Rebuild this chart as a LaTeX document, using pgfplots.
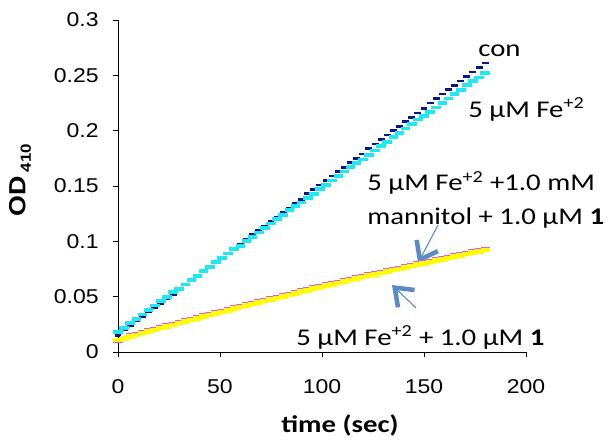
\documentclass[border=0pt]{standalone}
\usepackage{fontspec}
\setmainfont[FakeStretch=1.15]{Liberation Sans}
\newfontfamily\calib[FakeStretch=1.2]{Carlito}
\usepackage{pgfplots}
\pgfplotsset{compat=1.18}
\usetikzlibrary{arrows.meta}
\definecolor{conc}{RGB}{10,20,140}
\definecolor{cyanc}{RGB}{30,232,240}
\definecolor{yelc}{RGB}{255,255,0}
\definecolor{magc}{RGB}{240,80,240}
\definecolor{arrc}{RGB}{91,139,199}
\begin{document}
\begin{tikzpicture}
\begin{axis}[
  scale only axis, width=306pt, height=249pt,
  xmin=0, xmax=200, ymin=0, ymax=0.3,
  axis x line*=bottom, axis y line*=left,
  axis line style={-, black, line width=0.6pt},
  xtick={0,50,100,150,200},
  ytick={0,0.05,0.1,0.15,0.2,0.25,0.3},
  yticklabels={0,0.05,0.1,0.15,0.2,0.25,0.3},
  tick align=outside, major tick length=4pt,
  tick style={black, line width=0.6pt},
  ticklabel style={font=\fontsize{15}{18}\selectfont},
  /pgf/number format/assume math mode=true,
  xticklabel style={yshift=-13pt},
  yticklabel style={xshift=-7pt},
  clip=false,
  xlabel={\calib\bfseries time (sec)},
  ylabel={\bfseries OD\,{\fontsize{11}{12}\selectfont\raisebox{-4pt}{410}}},
  xlabel style={at={(axis description cs:0.544,-0.22)}, anchor=center, font=\fontsize{18}{21}\selectfont},
  ylabel style={at={(axis description cs:-0.24,0.518)}, anchor=center, font=\fontsize{17.5}{20}\selectfont},
]
\addplot[only marks, mark=-, color=conc, mark size=2.6pt, mark options={line width=2pt}] coordinates {
(0,0.015)(3,0.020)(6,0.024)(9,0.028)(12,0.032)(15,0.036)(18,0.040)(21,0.044)(24,0.048)(27,0.052)(30,0.056)(33,0.061)(36,0.065)(39,0.069)(42,0.073)(45,0.077)(48,0.081)(51,0.085)(54,0.089)(57,0.093)(60,0.097)(63,0.102)(66,0.106)(69,0.110)(72,0.114)(75,0.118)(78,0.122)(81,0.126)(84,0.130)(87,0.134)(90,0.138)(93,0.143)(96,0.147)(99,0.151)(102,0.155)(105,0.159)(108,0.163)(111,0.167)(114,0.171)(117,0.175)(120,0.179)(123,0.184)(126,0.188)(129,0.192)(132,0.196)(135,0.200)(138,0.204)(141,0.208)(144,0.212)(147,0.216)(150,0.220)(153,0.225)(156,0.229)(159,0.233)(162,0.237)(165,0.241)(168,0.245)(171,0.249)(174,0.253)(177,0.257)(180,0.261)
};
\addplot[only marks, mark=-, color=cyanc, mark size=3.6pt, mark options={line width=2.8pt}] coordinates {
(0,0.018)(3,0.022)(6,0.026)(9,0.030)(12,0.034)(15,0.038)(18,0.042)(21,0.046)(24,0.050)(27,0.054)(30,0.057)(33,0.061)(36,0.065)(39,0.069)(42,0.073)(45,0.077)(48,0.081)(51,0.085)(54,0.089)(57,0.093)(60,0.096)(63,0.100)(66,0.104)(69,0.108)(72,0.112)(75,0.116)(78,0.120)(81,0.124)(84,0.128)(87,0.132)(90,0.135)(93,0.139)(96,0.143)(99,0.147)(102,0.151)(105,0.155)(108,0.159)(111,0.163)(114,0.167)(117,0.171)(120,0.174)(123,0.178)(126,0.182)(129,0.186)(132,0.190)(135,0.194)(138,0.198)(141,0.202)(144,0.206)(147,0.210)(150,0.213)(153,0.217)(156,0.221)(159,0.225)(162,0.229)(165,0.233)(168,0.237)(171,0.241)(174,0.245)(177,0.248)(180,0.252)
};
\addplot[only marks, mark=-, color=magc, mark size=3.4pt, mark options={line width=2.4pt}] coordinates {
(0,0.0093)(3,0.0125)(6,0.0154)(9,0.0169)(12,0.0185)(15,0.0200)(18,0.0215)(21,0.0230)(24,0.0246)(27,0.0261)(30,0.0276)(33,0.0291)(36,0.0305)(39,0.0320)(42,0.0334)(45,0.0349)(48,0.0363)(51,0.0378)(54,0.0392)(57,0.0407)(60,0.0421)(63,0.0435)(66,0.0449)(69,0.0463)(72,0.0477)(75,0.0491)(78,0.0505)(81,0.0518)(84,0.0532)(87,0.0546)(90,0.0560)(93,0.0573)(96,0.0587)(99,0.0600)(102,0.0614)(105,0.0627)(108,0.0640)(111,0.0653)(114,0.0666)(117,0.0679)(120,0.0692)(123,0.0705)(126,0.0717)(129,0.0730)(132,0.0742)(135,0.0755)(138,0.0767)(141,0.0780)(144,0.0792)(147,0.0805)(150,0.0817)(153,0.0829)(156,0.0841)(159,0.0853)(162,0.0865)(165,0.0877)(168,0.0889)(171,0.0900)(174,0.0912)(177,0.0923)(180,0.0935)
};
\addplot[only marks, mark=-, color=yelc, mark size=3.4pt, mark options={line width=3.4pt}] coordinates {
(0,0.0108)(3,0.0123)(6,0.0139)(9,0.0154)(12,0.0170)(15,0.0185)(18,0.0200)(21,0.0215)(24,0.0231)(27,0.0246)(30,0.0261)(33,0.0276)(36,0.0290)(39,0.0305)(42,0.0319)(45,0.0334)(48,0.0348)(51,0.0363)(54,0.0377)(57,0.0392)(60,0.0406)(63,0.0420)(66,0.0434)(69,0.0448)(72,0.0462)(75,0.0476)(78,0.0490)(81,0.0503)(84,0.0517)(87,0.0531)(90,0.0545)(93,0.0558)(96,0.0572)(99,0.0585)(102,0.0599)(105,0.0612)(108,0.0625)(111,0.0638)(114,0.0651)(117,0.0664)(120,0.0677)(123,0.0690)(126,0.0702)(129,0.0715)(132,0.0727)(135,0.0740)(138,0.0752)(141,0.0765)(144,0.0777)(147,0.0790)(150,0.0802)(153,0.0814)(156,0.0826)(159,0.0838)(162,0.0850)(165,0.0862)(168,0.0874)(171,0.0885)(174,0.0897)(177,0.0908)(180,0.0920)
};
\node[anchor=base west, font=\calib\fontsize{18}{21}\selectfont, inner sep=0pt] at (axis cs:176.5,0.2666) {con};
\node[anchor=base west, font=\calib\fontsize{18}{21}\selectfont, inner sep=0pt] at (axis cs:171.6,0.2123) {5 µM Fe\textsuperscript{+2}};
\node[anchor=base west, font=\calib\fontsize{18}{21}\selectfont, inner sep=0pt] at (axis cs:122.1,0.1458) {5 µM Fe\textsuperscript{+2} +1.0 mM};
\node[anchor=base west, font=\calib\fontsize{18}{21}\selectfont, inner sep=0pt] at (axis cs:122.1,0.1148) {mannitol + 1.0 µM \textbf{1}};
\node[anchor=base west, font=\calib\fontsize{18}{21}\selectfont, inner sep=0pt] at (axis cs:87.3,0.0063) {5 µM Fe\textsuperscript{+2} + 1.0 µM \textbf{1}};
\draw[arrc, line width=0.8pt, -{Straight Barb[length=12pt,width=18pt,line width=3.4pt]}] (axis cs:156.9,0.1148) -- (axis cs:147.1,0.0804);
\draw[arrc, line width=0.8pt, -{Straight Barb[length=12pt,width=18pt,line width=3.4pt]}] (axis cs:146.1,0.0398) -- (axis cs:134.3,0.0605);
\end{axis}
\path[use as bounding box] ([xshift=-88.5pt, yshift=-65.25pt]current axis.south west) rectangle ++(456.75pt,329.25pt);
\end{tikzpicture}
\end{document}
